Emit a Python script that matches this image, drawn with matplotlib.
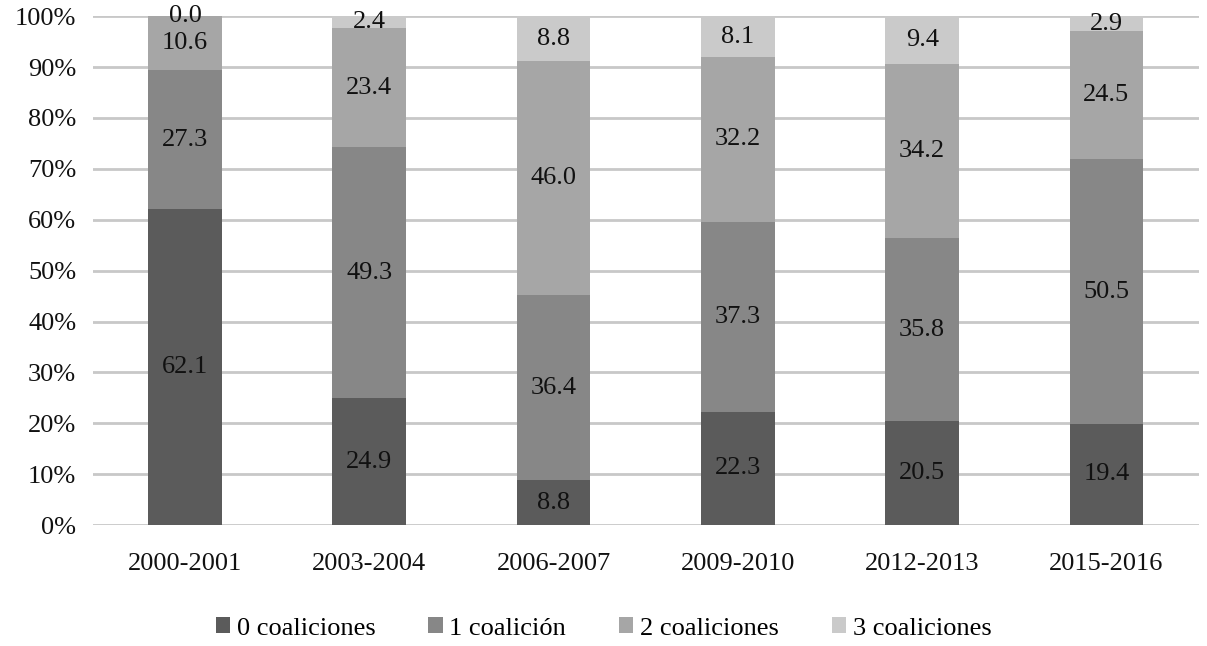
import numpy as np
import matplotlib.pyplot as plt
from matplotlib.ticker import PercentFormatter

periods = ["2000-2001", "2003-2004", "2006-2007", "2009-2010", "2012-2013", "2015-2016"]
series = ["0 coaliciones", "1 coalición", "2 coaliciones", "3 coaliciones"]
c0 = [62.1, 24.9, 8.8, 22.3, 20.5, 19.4]
c1 = [27.3, 49.3, 36.4, 37.3, 35.8, 50.5]
c2 = [10.6, 23.4, 46.0, 32.2, 34.2, 24.5]
c3 = [0.0, 2.4, 8.8, 8.1, 9.4, 2.9]
colors = ["#5b5b5b", "#878787", "#a6a6a6", "#cacaca"]

plt.rcParams['font.family'] = ['Liberation Serif', 'DejaVu Serif']

data = np.array([c0, c1, c2, c3])
totals = data.sum(axis=0)
shares = data / totals * 100  # 100% stacked, like Excel

fig = plt.figure(figsize=(12.07, 6.46), dpi=100)
ax = fig.add_axes([0.077, 0.187, 0.916, 0.788])

fs = 19
x = np.arange(len(periods))
bottom = np.zeros(len(periods))
for i, name in enumerate(series):
    ax.bar(x, shares[i], 0.4, bottom=bottom, color=colors[i], label=name, zorder=2)
    for j in range(len(periods)):
        ax.text(x[j], bottom[j] + shares[i][j] / 2, f"{data[i][j]:.1f}",
                ha="center", va="center", fontsize=fs, color="#111111", zorder=3)
    bottom += shares[i]

ax.set_xlim(-0.5, len(periods) - 0.5)
ax.set_ylim(0, 100)
ax.set_yticks(np.arange(0, 101, 10))
ax.yaxis.set_major_formatter(PercentFormatter(decimals=0))
ax.set_xticks(x)
ax.set_xticklabels(periods)
ax.tick_params(length=0, labelsize=fs, colors="#111111")
ax.tick_params(axis="x", pad=20)
ax.tick_params(axis="y", pad=12)
ax.grid(axis="y", color="#c8c8c8", linewidth=2, zorder=0)
ax.set_axisbelow(True)
for s in ax.spines.values():
    s.set_visible(False)

fig.legend(loc="center", bbox_to_anchor=(0.5, 0.027), ncol=4, frameon=False,
           fontsize=fs, handlelength=0.55, handleheight=0.55, handletextpad=0.25,
           columnspacing=2.0)

fig.savefig("out.png", dpi=100)
